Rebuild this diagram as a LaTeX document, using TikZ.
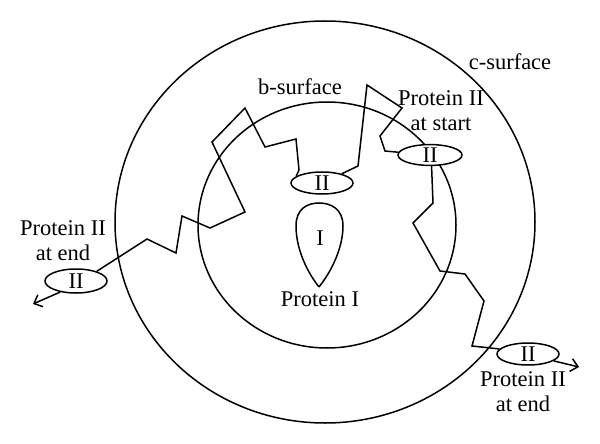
\documentclass[tikz,border=0pt]{standalone}
\usepackage{fontspec}
\setmainfont{Liberation Serif}
\usetikzlibrary{shapes.geometric,arrows.meta}
\begin{document}
\begin{tikzpicture}[x=1pt,y=-1pt,
  line width=1.5pt,
  prot/.style={draw,fill=white,ellipse,inner sep=0pt,minimum width=62pt,minimum height=22pt,font=\fontsize{22.5}{22}\selectfont},
  lbl/.style={font=\fontsize{22.5}{25}\selectfont,align=center,inner sep=0pt},
  tip/.style={-{Straight Barb[length=7pt,width=13pt,line width=1.5pt]}},
  every node/.style={line width=1.5pt}]
\useasboundingbox (0,0) rectangle (600,444);
% surfaces
\draw (325,222) ellipse [x radius=210, y radius=201];
\draw (327,225) ellipse [x radius=129, y radius=123];
% labels
\node[lbl] (cs) at (510,62) {c-surface};
\node[lbl] (bs) at (300,87) {b-surface};
\node[lbl] (ps) at (441,111) {Protein II\\at start};
\node[lbl] (pl) at (63,241) {Protein II\\at end};
\node[lbl] (pr) at (523,392) {Protein II\\at end};
% protein I
\draw (319,287) .. controls (304,268) and (296,245) .. (296,226)
  .. controls (296,209) and (307,203) .. (319,203)
  .. controls (331,203) and (343,209) .. (343,226)
  .. controls (343,245) and (334,268) .. (319,287);
\node[lbl] (pI) at (320,238) {I};
\node[lbl] (pIl) at (320,299) {Protein I};
% left path
\coordinate (aL) at (33,304);
\coordinate (aR) at (579,367);
\node[prot] (m) at (322,183) {II};
\node[prot,minimum height=19pt,minimum width=64pt] (s) at (430,155) {II};
\node[prot,minimum height=24pt] (eL) at (76,281) {II};
\node[prot] (eR) at (528,354) {II};
\draw (m.165) -- (299,170) -- (296,139) -- (265,147) -- (245,108) -- (212,142)
  -- (245,212) -- (210,228) -- (182,216) -- (176,253) -- (147,239) -- (eL.25);
\draw[tip] (eL.215) -- (aL);
% right path
\draw (m.25) -- (358,166) -- (367,85) -- (402,108) -- (380,136) -- (385,151) -- (s.175);
\draw (s.-82) -- (433,203) -- (413,223) -- (440,271) -- (465,274) -- (484,301)
  -- (472,346) -- (eR.170);
\draw[tip] (eR.-15) -- (aR);
\end{tikzpicture}
\end{document}
